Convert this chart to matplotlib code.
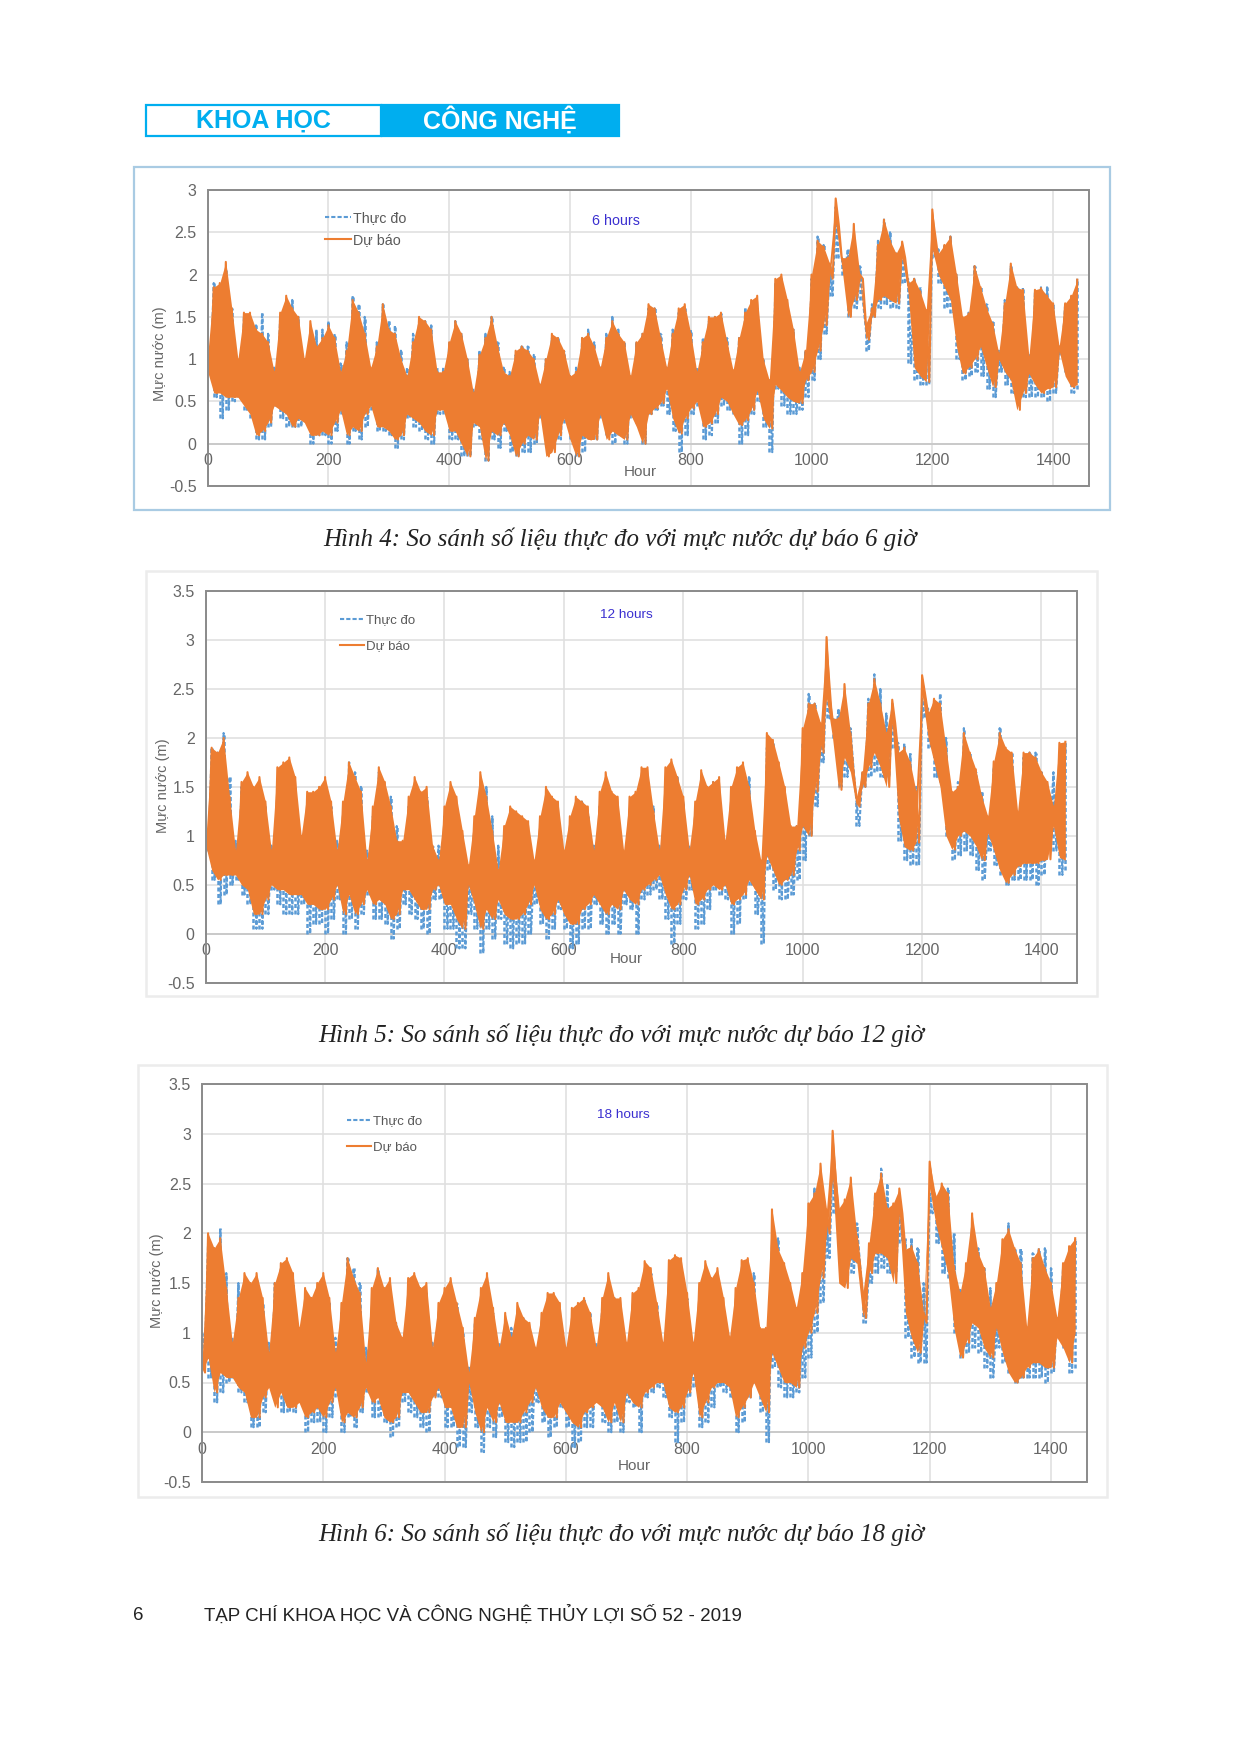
import numpy as np
import matplotlib
matplotlib.use("Agg")
import matplotlib.pyplot as plt
from matplotlib.patches import Rectangle

plt.rcParams['font.family'] = ['Liberation Sans', 'DejaVu Sans']

W, H = 1240, 1753

# hours of the readings below, one high and one low water level per 10 h
hours = list(range(0, 1441, 10))

# measured level (same in all three panels)
obs_hi = [1.0, 1.9, 1.85, 2.05, 1.6, .95, 1.5, 1.45, 1.4, 1.55,
          1.3, .9, 1.5, 1.65, 1.7, 1.5, 1.0, 1.05, 1.35, 1.35,
          1.45, 1.3, .95, 1.2, 1.75, 1.65, 1.5, .85, 1.2, 1.65,
          1.45, 1.4, 1.1, .9, 1.3, 1.45, 1.45, 1.4, .9, .9,
          1.2, 1.45, 1.3, 1.0, .65, 1.1, 1.3, 1.5, 1.2, .9,
          .85, 1.05, 1.15, 1.15, 1.05, .7, 1.0, 1.25, 1.25, 1.1,
          .8, .9, 1.25, 1.35, 1.2, .9, 1.3, 1.5, 1.35, 1.2,
          .8, 1.2, 1.3, 1.6, 1.6, 1.3, .9, 1.35, 1.55, 1.6,
          1.35, .9, 1.25, 1.45, 1.5, 1.55, 1.25, .85, 1.25, 1.6,
          1.6, 1.6, 1.0, .75, 1.9, 1.95, 1.6, 1.35, .9, 1.1,
          1.95, 2.45, 2.35, 2.1, 2.8, 2.2, 2.3, 2.35, 2.1, 1.35,
          1.65, 2.4, 2.65, 2.5, 2.25, 2.35, 1.95, 1.95, 1.85, 1.5,
          2.4, 2.3, 2.35, 2.45, 2.0, 1.45, 1.55, 2.1, 1.85, 1.65,
          1.45, 1.1, 1.7, 2.1, 1.85, 1.85, 1.05, 1.8, 1.85, 1.85,
          1.65, 1.15, 1.65, 1.75, 1.95]
obs_lo = [.85, .55, .3, .4, .5, .55, .4, .3, .05, .05,
          .2, .45, .3, .2, .2, .2, .3, 0, .1, .1,
          0, .15, .35, 0, .15, .05, .2, .4, .15, .15,
          .1, -.05, .05, .3, .2, .15, .05, 0, .35, .35,
          .05, .05, -.15, -.15, .2, .05, -.2, .05, -.05, .15,
          -.1, -.15, -.1, -.1, 0, .3, .1, -.05, .05, .25,
          .05, -.15, -.1, .05, .05, .3, .1, 0, .1, 0,
          .3, .25, 0, .35, .4, .45, .35, .15, -.1, .1,
          .35, .45, .05, .1, .25, .45, .4, .35, 0, .1,
          .35, .5, .2, -.1, .65, .45, .35, .35, .4, .55,
          .75, 1.0, 1.3, 1.75, 2.2, 2.0, 1.5, 1.6, 1.7, 1.1,
          1.5, 1.6, 1.65, 1.6, 1.6, 1.9, .95, .75, .7, .7,
          2.2, 1.9, 1.6, 1.55, 1.0, .75, .8, .85, .8, .65,
          .55, .85, .7, .6, .5, .55, .55, .55, .55, .5,
          .6, 1.05, .85, .6, .65]

# forecast 6 h
fc6_hi = [1.05, 1.85, 1.9, 2.15, 1.6, 1.0, 1.55, 1.55, 1.35, 1.3,
          1.2, .85, 1.55, 1.75, 1.6, 1.5, 1.0, 1.45, 1.15, 1.25,
          1.4, 1.25, .85, 1.1, 1.7, 1.55, 1.3, .9, 1.15, 1.65,
          1.35, 1.3, 1.0, .8, 1.2, 1.5, 1.45, 1.35, .85, .85,
          1.2, 1.45, 1.3, 1.0, .6, 1.05, 1.25, 1.5, 1.15, .85,
          .8, 1.1, 1.15, 1.1, 1.0, .7, 1.0, 1.3, 1.25, 1.1,
          .8, .85, 1.25, 1.3, 1.15, .9, 1.25, 1.45, 1.3, 1.2,
          .8, 1.2, 1.3, 1.65, 1.6, 1.25, .9, 1.3, 1.6, 1.65,
          1.3, .85, 1.2, 1.5, 1.5, 1.55, 1.2, .87, 1.25, 1.55,
          1.7, 1.75, 1.0, .75, 1.95, 2.0, 1.7, 1.35, .85, 1.1,
          2.0, 2.4, 2.33, 2.13, 2.9, 2.2, 2.2, 2.6, 2.0, 1.42,
          1.6, 2.35, 2.65, 2.4, 2.25, 2.39, 1.9, 1.95, 1.8, 1.58,
          2.77, 2.25, 2.35, 2.45, 2.0, 1.5, 1.54, 2.1, 1.85, 1.6,
          1.42, 1.07, 1.66, 2.13, 1.85, 1.82, 1.03, 1.82, 1.84, 1.75,
          1.66, 1.15, 1.66, 1.75, 1.94]
fc6_lo = [.85, .6, .6, .55, .55, .55, .45, .35, .1, .15,
          .25, .45, .4, .35, .2, .3, .25, .1, .1, .15,
          .1, .25, .4, .1, .2, .15, .35, .45, .2, .2,
          .15, .05, .1, .35, .3, .25, .15, .1, .4, .4,
          .15, .15, 0, -.15, .25, .2, -.2, .15, .1, .25,
          .1, -.15, 0, .1, .05, .35, -.15, -.1, .1, .3,
          .05, -.15, .1, .05, .05, .35, .05, .15, .1, .05,
          .35, .2, 0, .35, .42, .48, .65, .3, .12, .3,
          .42, .5, .2, .24, .35, .55, .5, .35, .22, .28,
          .4, .63, .3, .18, .7, .63, .55, .5, .48, .75,
          .85, 1.1, 1.4, 1.95, 2.6, 2.1, 1.5, 1.7, 1.95, 1.23,
          1.5, 1.7, 1.75, 1.7, 1.66, 2.2, 1.78, .9, .8, .73,
          2.3, 2.0, 1.85, 1.7, 1.15, .83, .9, 1.0, 1.15, .9,
          .67, 1.0, .85, .75, .4, .6, .83, .7, .6, .65,
          .67, 1.1, .8, .67, .7]

# forecast 12 h
fc12_hi = [.95, 1.9, 1.85, 2.0, 1.4, .85, 1.55, 1.65, 1.5, 1.6,
           1.35, .85, 1.7, 1.75, 1.8, 1.6, 1.0, 1.45, 1.45, 1.5,
           1.6, 1.35, .85, 1.35, 1.75, 1.6, 1.45, .75, 1.3, 1.7,
           1.55, 1.3, .95, .95, 1.4, 1.6, 1.45, 1.5, .9, .75,
           1.3, 1.55, 1.4, 1.05, .7, 1.2, 1.65, 1.4, 1.05, .65,
           1.1, 1.3, 1.25, 1.2, 1.15, .75, 1.2, 1.5, 1.4, 1.35,
           .85, 1.2, 1.4, 1.35, 1.3, .85, 1.45, 1.65, 1.45, 1.4,
           .85, 1.4, 1.45, 1.7, 1.7, 1.25, .85, 1.7, 1.78, 1.6,
           1.4, .86, 1.35, 1.67, 1.5, 1.55, 1.6, .95, 1.5, 1.7,
           1.75, 1.5, 1.05, .75, 2.05, 1.98, 1.75, 1.5, 1.1, 1.1,
           2.1, 2.35, 2.35, 2.15, 3.03, 2.2, 2.2, 2.55, 2.05, 1.4,
           1.65, 2.35, 2.6, 2.35, 2.05, 2.39, 1.85, 1.9, 1.75, 1.45,
           2.64, 2.25, 2.4, 2.35, 1.9, 1.45, 1.5, 2.05, 1.85, 1.68,
           1.4, 1.2, 1.76, 2.05, 1.9, 1.85, 1.25, 1.85, 1.85, 1.8,
           1.65, 1.55, 1.3, 1.95, 1.96]
fc12_lo = [.9, .65, .55, .6, .6, .6, .5, .45, .2, .2,
           .35, .5, .45, .45, .4, .4, .4, .3, .3, .25,
           .25, .35, .5, .2, .4, .2, .3, .45, .3, .35,
           .3, .15, .2, .45, .45, .35, .25, .25, .45, .5,
           .3, .3, .15, .05, .5, .3, .05, .25, .15, .35,
           .2, .15, .15, .2, .3, .5, .25, .15, .2, .35,
           .2, .1, .1, .25, .3, .4, .3, .2, .3, .25,
           .45, .35, .3, .45, .5, .55, .6, .4, .25, .3,
           .45, .6, .3, .35, .45, .5, .45, .5, .3, .35,
           .4, .55, .45, .35, .8, .65, .5, .55, .6, .85,
           1.1, 1.0, 1.45, 1.85, 2.4, 2.0, 1.47, 1.8, 1.65, 1.3,
           1.5, 1.7, 1.85, 1.7, 1.5, 2.15, 1.2, .89, .85, .93,
           2.45, 2.0, 1.75, 1.5, 1.0, .86, 1.0, 1.05, 1.0, .9,
           .75, 1.03, .85, .65, .52, .6, .69, .72, .72, .72,
           .75, .76, 1.1, .78, .75]

# forecast 18 h
fc18_hi = [.7, 2.0, 1.85, 1.95, 1.45, .9, 1.35, 1.6, 1.5, 1.6,
           1.35, .8, 1.5, 1.7, 1.75, 1.6, 1.05, 1.45, 1.35, 1.5,
           1.6, 1.35, .8, 1.3, 1.75, 1.55, 1.4, .7, 1.45, 1.65,
           1.45, 1.55, 1.1, .95, 1.55, 1.6, 1.45, 1.5, .85, 1.3,
           1.45, 1.55, 1.3, 1.05, .6, 1.15, 1.45, 1.6, 1.25, .85,
           1.2, .95, 1.3, 1.15, 1.1, .85, 1.2, 1.4, 1.4, 1.3,
           .85, 1.25, 1.3, 1.35, 1.2, .85, 1.35, 1.6, 1.35, 1.35,
           .9, 1.4, 1.45, 1.72, 1.65, 1.3, .9, 1.73, 1.78, 1.75,
           1.4, .9, 1.5, 1.72, 1.55, 1.65, 1.35, .96, 1.45, 1.73,
           1.75, 1.5, 1.05, 1.05, 2.24, 1.84, 1.7, 1.5, 1.25, 1.6,
           2.3, 2.4, 2.7, 2.24, 3.03, 2.25, 2.34, 2.56, 1.97, 1.4,
           1.9, 2.4, 2.6, 2.25, 2.3, 2.45, 1.84, 1.87, 1.7, 1.2,
           2.72, 2.37, 2.5, 2.4, 1.67, 1.4, 1.7, 2.2, 1.8, 1.65,
           1.25, 1.5, 1.94, 2.04, 1.85, 1.7, 1.06, 1.75, 1.84, 1.65,
           1.5, 1.15, 1.7, 1.87, 1.95]
fc18_lo = [.6, .75, .4, .6, .55, .55, .45, .4, .15, .15,
           .35, .45, .25, .4, .25, .25, .3, .15, .2, .25,
           .15, .3, .45, .1, .2, .15, .25, .45, .3, .35,
           .15, .1, .15, .4, .4, .3, .2, .2, .35, .45,
           .25, .25, .05, .05, .5, .2, 0, .25, .1, .3,
           .1, .1, .1, .2, .3, .45, .25, .15, .15, .3,
           .2, .1, .05, .2, .25, .3, .25, .1, .3, .1,
           .4, .3, .25, .4, .45, .5, .5, .25, .2, .25,
           .4, .6, .15, .3, .45, .5, .5, .45, .15, .25,
           .35, .5, .35, .2, .8, .65, .5, .5, .45, .85,
           1.0, 1.2, 1.55, 2.0, 2.55, 1.5, 1.45, 1.75, 1.7, 1.15,
           1.6, 1.8, 1.8, 1.75, 1.5, 2.2, 1.2, .95, .8, 1.1,
           2.45, 2.1, 1.85, 1.6, 1.05, .75, .9, 1.1, 1.05, .85,
           .75, 1.05, .8, .6, .5, .55, .65, .7, .7, .65,
           .65, .95, .85, .7, 1.0]

x_ticks = [0, 200, 400, 600, 800, 1000, 1200, 1400]
tick_names = ['-0.5', '0', '0.5', '1', '1.5', '2', '2.5', '3', '3.5']
series_names = ['Thực đo', 'Dự báo']

BLUE = '#5b9bd5'
ORANGE = '#ed7d31'
GREY = '#666666'
HEAD = '#00aeef'

fig = plt.figure(figsize=(W / 100, H / 100), dpi=100)


def box(x0, y0, x1, y1, **kw):
    # rectangle in page pixels, y going down
    r = Rectangle((x0 / W, 1 - y1 / H), (x1 - x0) / W, (y1 - y0) / H,
                  transform=fig.transFigure, **kw)
    fig.add_artist(r)


def label(x, y, s, **kw):
    kw.setdefault('ha', 'center')
    kw.setdefault('va', 'center')
    fig.text(x / W, 1 - y / H, s, **kw)


def weave(hi, lo):
    # tide goes up and down between the two envelopes
    xs, ys = [], []
    for h, a, b in zip(hours, hi, lo):
        xs += [h, h + 5]
        ys += [a, b]
    return xs[:-1], ys[:-1]


def panel(rect, ymax, hi, lo, name, name_xy, name_size, hour_xy, ylab_xy, leg_xy, spacing, leg_size):
    x0, y0, x1, y1 = rect
    ax = fig.add_axes([x0 / W, 1 - y1 / H, (x1 - x0) / W, (y1 - y0) / H])
    ax.set_zorder(2)
    ax.patch.set_alpha(0)
    xo, yo = weave(obs_hi, obs_lo)
    xf, yf = weave(hi, lo)
    # measured series: dotted fringe around the forecast band
    ax.vlines(hours, obs_lo, obs_hi, colors=BLUE, lw=1.8, linestyles=(0, (1.6, 1)), zorder=3)
    l1, = ax.plot(xo, yo, color=BLUE, lw=1.5, ls=(0, (2, 1)), zorder=3)
    # forecast series: the daily swings blend into a solid band
    ax.fill_between(hours, lo, hi, color=ORANGE, lw=0, zorder=4)
    l2, = ax.plot(xf, yf, color=ORANGE, lw=1.5, zorder=4)
    ax.set_xlim(0, 1459.5)
    ax.set_ylim(-0.5, ymax)
    ax.set_xticks(x_ticks)
    yt = [-0.5 + 0.5 * i for i in range(int((ymax + 0.5) * 2) + 1)]
    ax.set_yticks(yt)
    ax.set_yticklabels(tick_names[:len(yt)])
    ax.tick_params(length=0, colors=GREY, labelsize=11.5)
    ax.tick_params(axis='x', pad=7)
    ax.tick_params(axis='y', pad=8)
    ax.grid(True, color='#e0e0e0', lw=1.2)
    ax.set_axisbelow(True)
    for s in ['top', 'right', 'left']:
        ax.spines[s].set_visible(False)
    # horizontal axis crosses at 0, labels sit right under it
    ax.spines['bottom'].set_position(('data', 0))
    ax.spines['bottom'].set_color('#c8c8c8')
    ax.spines['bottom'].set_linewidth(1.3)
    ax.add_patch(Rectangle((0, 0), 1, 1, transform=ax.transAxes, fill=False,
                           ec='#8a8a8a', lw=1.4, clip_on=False, zorder=5))
    ax.legend([l1, l2], series_names, loc='upper left',
              bbox_to_anchor=((leg_xy[0] - x0) / (x1 - x0), (y1 - leg_xy[1]) / (y1 - y0)),
              frameon=False, fontsize=leg_size, labelcolor='#595959', borderpad=0,
              borderaxespad=0, handlelength=1.85, handletextpad=0.1, labelspacing=spacing)
    label(name_xy[0], name_xy[1], name, color='#3a2fd0', fontsize=name_size, zorder=6)
    label(hour_xy[0], hour_xy[1], 'Hour', color=GREY, fontsize=11, zorder=6)
    label(ylab_xy[0], ylab_xy[1], 'Mực nước (m)', color=GREY, fontsize=10.5,
          rotation=90, zorder=6)


# page header
box(145.5, 104.5, 381.5, 135.5, fc='white', ec=HEAD, lw=1.6)
box(381.5, 104.5, 619, 135.5, fc=HEAD, ec=HEAD, lw=1.6)
label(263, 121, 'KHOA HỌC', color=HEAD, fontsize=18, fontweight='bold')
label(500, 120, 'CÔNG NGHỆ', color='white', fontsize=18, fontweight='bold')

# panel frames
box(134, 167, 1110, 509.5, fc='none', ec='#a9cbe3', lw=1.6)
box(146, 571, 1097, 996, fc='none', ec='#ececec', lw=1.8)
box(138, 1065, 1107, 1497, fc='none', ec='#ececec', lw=1.8)

panel((207.7, 190, 1089, 486), 3, fc6_hi, fc6_lo, '6 hours', (616, 221), 10.3, (640, 472),
      (160, 354), (325, 211), 0.55, 10.3)
panel((205.7, 591, 1077, 982.7), 3.5, fc12_hi, fc12_lo, '12 hours', (626, 615), 9.7, (626, 959),
      (163, 786), (340, 614), 1.05, 9.5)
panel((202, 1084, 1087, 1482), 3.5, fc18_hi, fc18_lo, '18 hours', (623, 1115), 9.7, (634, 1466),
      (157, 1281), (347, 1115), 1.05, 9.5)

cap = dict(family=['Liberation Serif', 'DejaVu Serif'], style='italic', fontsize=18, color='#222222')
label(620, 539, 'Hình 4: So sánh số liệu thực đo với mực nước dự báo 6 giờ', **cap)
label(621, 1035, 'Hình 5: So sánh số liệu thực đo với mực nước dự báo 12 giờ', **cap)
label(621, 1534, 'Hình 6: So sánh số liệu thực đo với mực nước dự báo 18 giờ', **cap)

label(138, 1615, '6', color='#222222', fontsize=13.5)
label(203.5, 1615, 'TẠP CHÍ KHOA HỌC VÀ CÔNG NGHỆ THỦY LỢI SỐ 52 - 2019', ha='left',
      color='#222222', fontsize=13.5)

plt.savefig('out.png', dpi=100)
